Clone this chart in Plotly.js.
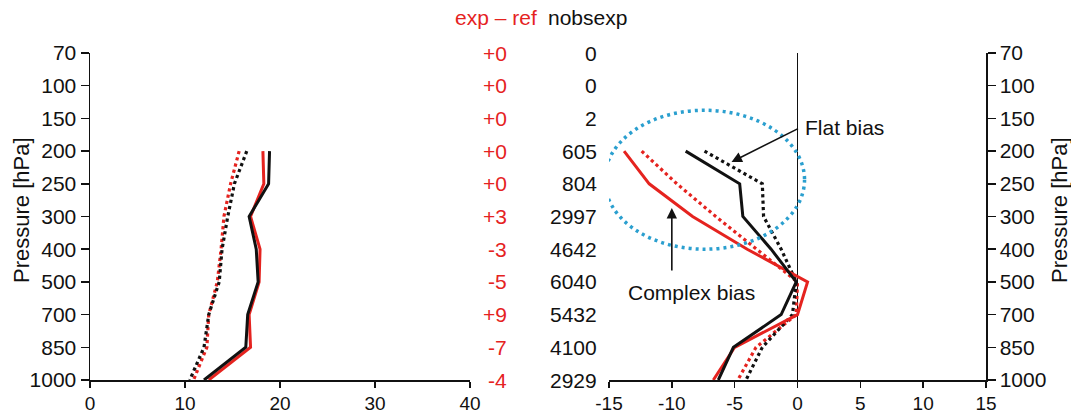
<!DOCTYPE html>
<html>
<head>
<meta charset="utf-8">
<script src="https://cdn.plot.ly/plotly-3.0.1.min.js"></script>
<style>html,body{margin:0;padding:0;background:#fff;}#chart{width:1071px;height:416px;}</style>
</head>
<body>
<div id="chart"></div>
<script>
// Pressure levels (category axis, top to bottom)
const levels = ['70','100','150','200','250','300','400','500','700','850','1000'];
// Levels that carry profile data
const profLevels = ['200','250','300','400','500','700','850','1000'];

// Left panel profiles
const leftRedSolid   = [18.2, 18.3, 16.9, 17.9, 17.8, 16.75, 16.9, 12.5];
const leftBlackSolid = [18.9, 18.8, 16.75, 17.5, 17.7, 16.6, 16.4, 12.0];
const leftRedDot     = [15.7, 14.8, 14.1, 13.8, 13.4, 12.5, 12.3, 10.9];
const leftBlackDot   = [16.5, 15.2, 14.5, 13.9, 13.6, 12.5, 12.0, 10.5];

// Right panel (bias profiles)
const rightRedSolid   = [-13.8, -11.8, -8.35, -4.0, 0.8, 0.0, -5.0, -6.7];
const rightBlackSolid = [-8.9, -4.6, -4.35, -2.1, -0.1, -1.3, -5.1, -6.3];
const rightRedDot     = [-12.4, -9.6, -6.5, -3.2, 0.0, -0.1, -3.3, -4.75];
const rightBlackDot   = [-7.4, -2.8, -2.7, -1.3, -0.1, -0.4, -2.8, -4.1];

// Middle columns
const expMinusRef = ['+0','+0','+0','+0','+0','+3','-3','-5','+9','-7','-4'];
const nobsExp     = ['0','0','2','605','804','2997','4642','6040','5432','4100','2929'];

// Tick values / labels
const leftTicks  = [0, 10, 20, 30, 40];
const rightTicks = [-15, -10, -5, 0, 5, 10, 15];
const rightTickText = ['-15', '-10', '-5', '0', '5', '10', '15'];

const RED = '#e5231f';
const BLK = '#111111';
const FONT = 'Liberation Sans, Arial, Helvetica, sans-serif';
const FS = 21;

function tr(x, xa, ya, color, dash) {
  return {x: x, y: profLevels, xaxis: xa, yaxis: ya, type: 'scatter', mode: 'lines',
          line: {color: color, width: dash === 'solid' ? 3 : 3.2, dash: dash}, hoverinfo: 'skip'};
}

const data = [
  tr(leftRedDot, 'x', 'y', RED, 'dot'),
  tr(leftBlackDot, 'x', 'y', BLK, 'dot'),
  tr(leftRedSolid, 'x', 'y', RED, 'solid'),
  tr(leftBlackSolid, 'x', 'y', BLK, 'solid'),
  tr(rightRedDot, 'x2', 'y2', RED, 'dot'),
  tr(rightBlackDot, 'x2', 'y2', BLK, 'dot'),
  tr(rightRedSolid, 'x2', 'y2', RED, 'solid'),
  tr(rightBlackSolid, 'x2', 'y2', BLK, 'solid')
];

const plotL = 90, plotR = 986, plotW = plotR - plotL;
const plotT = 53, plotB = 380, plotH = plotB - plotT;
const px2paper = p => (p - plotL) / plotW;
const py2paper = p => (plotB - p) / plotH;

const annotations = [];
levels.forEach((lv, i) => {
  annotations.push({xref: 'paper', yref: 'y', x: px2paper(509), y: i, xanchor: 'right', yanchor: 'middle',
    text: expMinusRef[i], showarrow: false, font: {family: FONT, size: FS, color: RED}});
  annotations.push({xref: 'paper', yref: 'y', x: px2paper(599), y: i, xanchor: 'right', yanchor: 'middle',
    text: nobsExp[i], showarrow: false, font: {family: FONT, size: FS, color: BLK}});
});
annotations.push({xref: 'paper', yref: 'paper', x: px2paper(539), y: py2paper(17), xanchor: 'right', yanchor: 'middle',
  text: 'exp \u2013 ref', showarrow: false, font: {family: FONT, size: FS, color: RED}});
annotations.push({xref: 'paper', yref: 'paper', x: px2paper(546), y: py2paper(17), xanchor: 'left', yanchor: 'middle',
  text: 'nobsexp', showarrow: false, font: {family: FONT, size: FS, color: BLK}});
// Axis titles
annotations.push({xref: 'paper', yref: 'paper', x: px2paper(21), y: py2paper(210), xanchor: 'center', yanchor: 'middle',
  textangle: -90, text: 'Pressure [hPa]', showarrow: false, font: {family: FONT, size: 22, color: BLK}});
annotations.push({xref: 'paper', yref: 'paper', x: px2paper(1059), y: py2paper(210), xanchor: 'center', yanchor: 'middle',
  textangle: -90, text: 'Pressure [hPa]', showarrow: false, font: {family: FONT, size: 22, color: BLK}});
// Flat bias
annotations.push({xref: 'x2', yref: 'y2', x: 0.45, y: 2.29, xanchor: 'left', yanchor: 'middle',
  text: 'Flat bias', showarrow: false, font: {family: FONT, size: FS, color: BLK}});
annotations.push({xref: 'x2', yref: 'y2', x: -5.25, y: 3.33, ax: 68, ay: -34, text: '', showarrow: true,
  arrowhead: 2, arrowsize: 1.3, arrowwidth: 1.6, arrowcolor: BLK});
// Complex bias
annotations.push({xref: 'x2', yref: 'y2', x: -8.45, y: 7.31, xanchor: 'center', yanchor: 'middle',
  text: 'Complex bias', showarrow: false, font: {family: FONT, size: FS, color: BLK}});
annotations.push({xref: 'x2', yref: 'y2', x: -10.0, y: 4.74, ax: 0, ay: 64, text: '', showarrow: true,
  arrowhead: 2, arrowsize: 1.3, arrowwidth: 1.6, arrowcolor: BLK});

const axCommon = {showgrid: false, showline: true, linecolor: BLK, linewidth: 1.5, ticks: 'outside',
  ticklen: 8, tickwidth: 1.5, tickcolor: BLK, tickfont: {family: FONT, size: FS, color: BLK}, fixedrange: true};
const xTickExtra = {ticklen: 6, tickfont: {family: FONT, size: 19, color: BLK}};

const yCommon = Object.assign({}, axCommon, {type: 'category', categoryorder: 'array', categoryarray: levels,
  range: [10, 0], autorange: false, zeroline: false, domain: [0, 1]});

const layout = {
  width: 1071, height: 416,
  margin: {l: plotL, r: 1071 - plotR, t: plotT, b: 416 - plotB},
  paper_bgcolor: '#fff', plot_bgcolor: 'rgba(0,0,0,0)',
  showlegend: false,
  font: {family: FONT, size: FS, color: BLK},
  xaxis: Object.assign({}, axCommon, xTickExtra, {domain: [0, px2paper(470)], range: [0, 40], autorange: false,
    tickvals: leftTicks, zeroline: false, anchor: 'y'}),
  yaxis: Object.assign({}, yCommon, {anchor: 'x', side: 'left'}),
  xaxis2: Object.assign({}, axCommon, xTickExtra, {domain: [px2paper(609), 1], range: [-15, 15], autorange: false,
    tickvals: rightTicks, ticktext: rightTickText, zeroline: true, zerolinecolor: BLK, zerolinewidth: 1.3, anchor: 'y2'}),
  yaxis2: Object.assign({}, yCommon, {anchor: 'x2', side: 'right'}),
  shapes: [{type: 'circle', xref: 'x2', yref: 'y2', x0: -15.35, x1: 0.56, y0: 1.75, y1: 6.0,
    line: {color: '#2a9fcf', width: 3.5, dash: '3px,4px'}, layer: 'above'}],
  annotations: annotations
};

Plotly.newPlot('chart', data, layout, {staticPlot: true, displayModeBar: false});
</script>
</body>
</html>
